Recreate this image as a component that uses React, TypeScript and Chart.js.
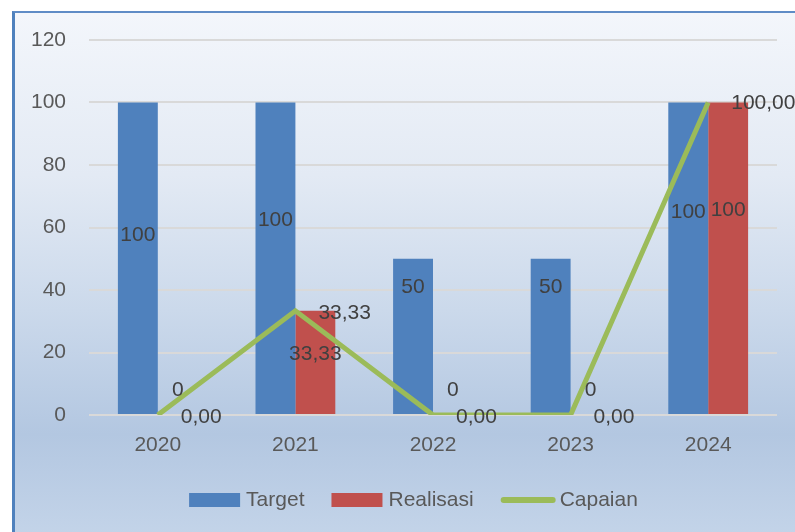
import React, { useEffect, useRef } from "react";
import { Chart, registerables } from "chart.js";

Chart.register(...registerables);

const categories = ["2020", "2021", "2022", "2023", "2024"];
const targetValues = [100, 100, 50, 50, 100];
const realisasiValues = [0, 33.33, 0, 0, 100];
const capaianValues = [0, 33.33, 0, 0, 100];
const yTicks = [0, 20, 40, 60, 80, 100, 120];

// label nudges (pixels) relative to the bar centre / line point
const targetLabelShift = [-23, -38, -49, -49, -46];
const realisasiLabelShift = [-25, -8, -25, -25, -48];
const capaianLabelShift = [2, 2, 2, 2, 1];

const FONT = '"Liberation Sans", Arial, sans-serif';
const COLORS = { target: "#4f81bd", realisasi: "#c0504d", capaian: "#9bbb59" };

const fmtBar = (v: number) => (Number.isInteger(v) ? String(v) : v.toFixed(2).replace(".", ","));
const fmtLine = (v: number) => v.toFixed(2).replace(".", ",");

const labelPlugin = {
  id: "valueLabels",
  afterDatasetsDraw(chart: any) {
    const ctx = chart.ctx;
    ctx.save();
    ctx.font = `21px ${FONT}`;
    ctx.fillStyle = "#404040";
    ctx.textBaseline = "middle";
    chart.data.datasets.forEach((ds: any, di: number) => {
      const meta = chart.getDatasetMeta(di);
      meta.data.forEach((el: any, i: number) => {
        const v = ds.data[i] as number;
        if (ds.type === "line") {
          ctx.textAlign = "left";
          ctx.fillText(fmtLine(v), el.x + 23, el.y + capaianLabelShift[i]);
        } else {
          const shift = di === 1 ? targetLabelShift[i] : realisasiLabelShift[i];
          ctx.textAlign = "center";
          ctx.fillText(fmtBar(v), el.x, (el.y + el.base) / 2 + shift);
        }
      });
    });
    ctx.restore();
  },
};

const legendPlugin = {
  id: "customLegend",
  afterDraw(chart: any) {
    const ctx = chart.ctx;
    ctx.save();
    ctx.font = `21px ${FONT}`;
    ctx.textBaseline = "middle";
    ctx.textAlign = "left";
    const items = [
      { label: "Target", color: COLORS.target, kind: "box", w: 51, gap: 6 },
      { label: "Realisasi", color: COLORS.realisasi, kind: "box", w: 51, gap: 6 },
      { label: "Capaian", color: COLORS.capaian, kind: "line", w: 55, gap: 4 },
    ];
    const between = 27;
    let total = 0;
    items.forEach((it, i) => {
      total += it.w + it.gap + ctx.measureText(it.label).width + (i < items.length - 1 ? between : 0);
    });
    let x = chart.width / 2 + 16 - total / 2;
    const cy = 500;
    items.forEach((it) => {
      if (it.kind === "box") {
        ctx.fillStyle = it.color;
        ctx.fillRect(x, cy - 7, it.w, 14);
      } else {
        ctx.strokeStyle = it.color;
        ctx.lineWidth = 6;
        ctx.lineCap = "round";
        ctx.beginPath();
        ctx.moveTo(x + 3, cy);
        ctx.lineTo(x + it.w - 3, cy);
        ctx.stroke();
      }
      x += it.w + it.gap;
      ctx.fillStyle = "#595959";
      ctx.fillText(it.label, x, cy);
      x += ctx.measureText(it.label).width + between;
    });
    ctx.restore();
  },
};

export default function App() {
  const ref = useRef<HTMLCanvasElement>(null);

  useEffect(() => {
    if (!ref.current) return;
    const chart = new Chart(ref.current, {
      type: "bar",
      data: {
        labels: categories,
        datasets: [
          {
            type: "line",
            label: "Capaian",
            data: capaianValues,
            borderColor: COLORS.capaian,
            backgroundColor: COLORS.capaian,
            borderWidth: 5,
            pointRadius: 0,
            tension: 0,
            order: 0,
          } as any,
          {
            type: "bar",
            label: "Target",
            data: targetValues,
            backgroundColor: COLORS.target,
            categoryPercentage: 0.58,
            barPercentage: 1,
            order: 1,
          },
          {
            type: "bar",
            label: "Realisasi",
            data: realisasiValues,
            backgroundColor: COLORS.realisasi,
            categoryPercentage: 0.58,
            barPercentage: 1,
            order: 1,
          },
        ],
      },
      options: {
        responsive: false,
        animation: false,
        layout: { padding: { left: 20, right: 18, top: 40, bottom: 57 } },
        plugins: { legend: { display: false }, tooltip: { enabled: false } },
        scales: {
          x: {
            grid: { display: false, drawTicks: false },
            border: { display: false },
            ticks: { color: "#595959", font: { family: FONT, size: 21 }, padding: 18 },
            afterFit(s: any) {
              s.height = 60;
            },
          },
          y: {
            min: 0,
            max: 120,
            afterBuildTicks(s: any) {
              s.ticks = yTicks.map((v) => ({ value: v }));
            },
            ticks: { color: "#595959", font: { family: FONT, size: 21 }, padding: 23 },
            grid: { color: "#d9d9d9", lineWidth: 2, drawTicks: false },
            border: { display: false },
            afterFit(s: any) {
              s.width = 69;
            },
          },
        },
      },
      plugins: [labelPlugin, legendPlugin],
    });
    return () => chart.destroy();
  }, []);

  return (
    <div style={{ position: "fixed", left: 0, top: 0, width: 795, height: 532, overflow: "hidden", background: "#ffffff" }}>
      <div
        style={{
          position: "absolute",
          left: 12,
          top: 11,
          width: 800,
          height: 540,
          borderLeft: "3px solid #4f81bd",
          borderTop: "2px solid #5f8cc6",
          background: "linear-gradient(to bottom, #f3f6fb 0%, #e3eaf4 30%, #cbd9eb 55%, #b3c7e1 78%, #c6d6ea 100%)",
        }}
      />
      <canvas ref={ref} width={795} height={532} style={{ position: "absolute", left: 0, top: 0, width: 795, height: 532 }} />
    </div>
  );
}
